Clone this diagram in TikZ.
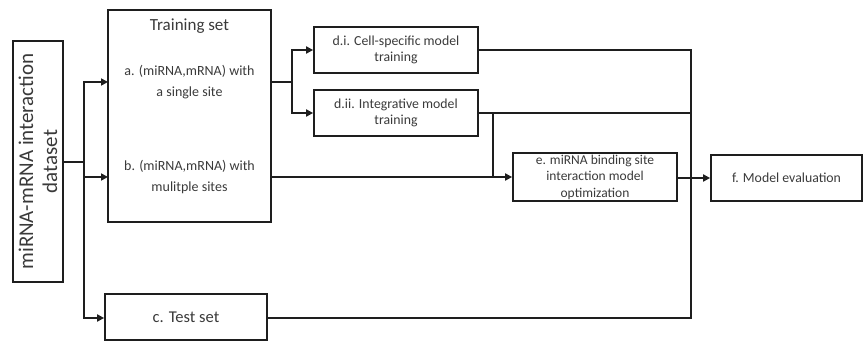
\documentclass[tikz,border=0pt]{standalone}
\usepackage{fontspec}
\setmainfont{Carlito}
\usetikzlibrary{arrows.meta}
\definecolor{ink}{HTML}{1E1E1E}
\definecolor{txt}{HTML}{3A3A3A}
\begin{document}
\begin{tikzpicture}[x=1pt,y=-1pt,
  box/.style={draw=ink, line width=1.7pt, inner sep=0pt, align=center,
    text=txt, font=\fontsize{12}{15.5}\selectfont},
  lbl/.style={text=txt, align=center, inner sep=0pt},
  conn/.style={draw=ink, line width=1.7pt},
  arr/.style={conn, -{Triangle[length=7pt,width=7pt]}}]
\useasboundingbox (0,0) rectangle (863,342);

% boxes
\node[box, minimum width=50pt, minimum height=241pt] (ds) at (38,161.5) {};
\node[lbl, rotate=90, font=\fontsize{21}{24}\selectfont] (dstext) at (ds) {miRNA-mRNA interaction\\dataset};

\node[box, minimum width=163pt, minimum height=212pt] (train) at (189.5,116) {};
\node[lbl, font=\fontsize{17}{20}\selectfont] (trtitle) at (189.5,26) {Training set};
\node[lbl, font=\fontsize{14}{20.5}\selectfont] (ta) at (189.5,82) {a. (miRNA,mRNA) with\\a single site};
\node[lbl, font=\fontsize{14}{20.5}\selectfont] (tb) at (189.5,177) {b. (miRNA,mRNA) with\\mulitple sites};

\node[box, minimum width=162pt, minimum height=46pt, font=\fontsize{16.5}{19}\selectfont] (test) at (186,317) {c. Test set};
\node[box, minimum width=164pt, minimum height=46pt, font=\fontsize{13.8}{15.5}\selectfont] (di) at (396,50) {d.i. Cell-specific model\\training};
\node[box, minimum width=164pt, minimum height=46pt, font=\fontsize{13.8}{15.5}\selectfont] (dii) at (396,113) {d.ii. Integrative model\\training};
\node[box, minimum width=164pt, minimum height=48pt, font=\fontsize{13.5}{16.5}\selectfont] (e) at (595,177) {e. miRNA binding site\\interaction model\\optimization};
\node[box, minimum width=151pt, minimum height=46pt, font=\fontsize{13.8}{16}\selectfont] (f) at (786.5,178) {f. Model evaluation};

% junction points
\coordinate (j0) at (84,162);
\coordinate (ia) at (108,82);
\coordinate (ib) at (108,177);
\coordinate (ja) at (271,82);
\coordinate (j1) at (292,82);
\coordinate (jb) at (271,177);
\coordinate (j2) at (493,113);
\coordinate (j3) at (493,177);
\coordinate (jr) at (691,50);
\coordinate (jm) at (691,113);
\coordinate (jt) at (691,318);

% dataset split
\draw[conn] (ds.east |- j0) -- (j0);
\draw[arr] (j0) |- (ia);
\draw[arr] (j0) |- (ib);
\draw[arr] (j0) |- (test.west |- jt);

% training set to models
\draw[conn] (ja) -- (j1);
\draw[arr] (j1) |- (di.west);
\draw[arr] (j1) |- (dii.west);
\draw[arr] (jb) -- (e.west |- jb);
\draw[conn] (dii.east |- j2) -- (jm);
\draw[conn] (j2) -- (j3);

% results collected for evaluation
\draw[conn] (di.east) -- (jr) -- (jt) -- (test.east |- jt);
\draw[arr] (e.east |- f.west) -- (f.west);
\end{tikzpicture}
\end{document}
